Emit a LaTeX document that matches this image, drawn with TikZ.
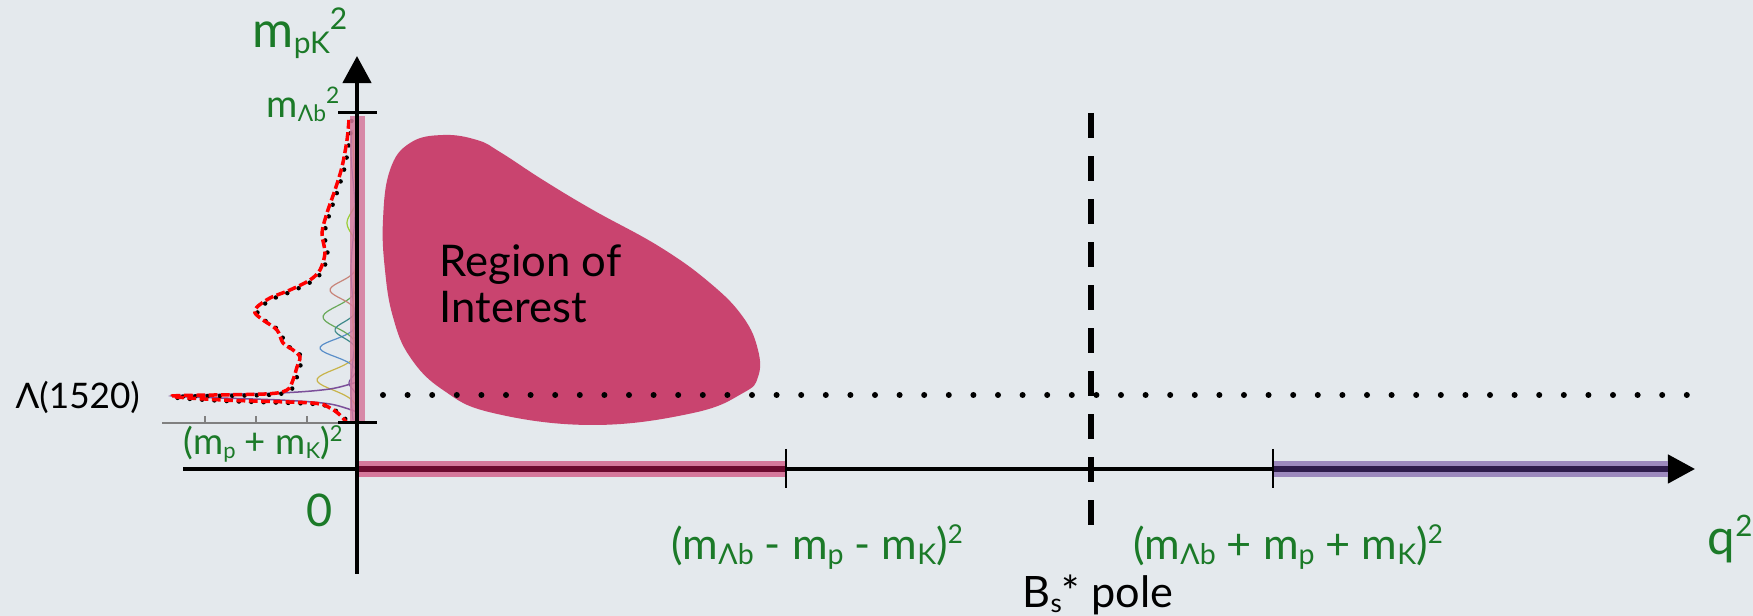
\documentclass[tikz,border=0pt]{standalone}
\usepackage{fontspec}
\setmainfont{Lato}
\usetikzlibrary{arrows.meta}
\definecolor{bg}{HTML}{E4E9ED}
\definecolor{grn}{HTML}{1B7A28}
\definecolor{roi}{HTML}{C9446F}
\definecolor{pinkband}{HTML}{D5789B}
\definecolor{pinkdark}{HTML}{6B0A2E}
\definecolor{purpband}{HTML}{9C89BD}
\definecolor{purpdark}{HTML}{2D1B4A}
\definecolor{hyel}{HTML}{C8B44A}
\definecolor{hblue}{HTML}{5B8FC9}
\definecolor{hgreen}{HTML}{6AAA5A}
\definecolor{hteal}{HTML}{3F8A8A}
\definecolor{hsalm}{HTML}{C8857A}
\definecolor{hpurp}{HTML}{7B4F9A}
\definecolor{holive}{HTML}{9ACD32}
\newcommand\sbs[1]{\raisebox{-0.2ex}{\scalebox{0.6}{#1}}}
\newcommand\sbsL[1]{\raisebox{-0.2ex}{\scalebox{0.66}{#1}}}
\newcommand\sps[1]{\raisebox{0.75ex}{\scalebox{0.6}{#1}}}
\tikzset{
  lbl/.style={text=grn, inner sep=0pt, anchor=base west},
  blk/.style={text=black, inner sep=0pt, anchor=base west},
  axisline/.style={line width=0.045cm, -{Triangle[length=0.27cm,width=0.28cm]}},
  tickline/.style={line width=0.03cm},
  gauss/.style={line width=0.012cm},
}
\begin{document}
\begin{tikzpicture}[x=0.01cm,y=-0.01cm]
\fill[bg] (0,0) rectangle (1753,616);
\useasboundingbox (0,0) rectangle (1753,616);

% region of interest blob
\fill[roi] plot[smooth cycle, tension=0.7] coordinates {
 (410,143) (443,135) (477,140) (500,152) (543,180) (593,210) (660,247)
 (710,283) (743,317) (758,350) (758,377) (743,393) (693,413) (593,425)
 (493,413) (443,390) (410,357) (393,317) (385,270) (383,220) (390,170)};
\node[blk, font=\fontsize{12.4}{14}\selectfont] (roiA) at (439,277) {Region of};
\node[blk, font=\fontsize{12.4}{14}\selectfont] (roiB) at (439,323) {Interest};

% dotted Lambda(1520) line
\foreach \i in {0,...,53} \fill (383+24.6*\i,395) circle (0.03cm);

% dashed Bs* pole line
\draw[line width=0.06cm, dash pattern=on 0.25cm off 0.18cm] (1091,113) -- (1091,525);

% histogram axis
\draw[gray, line width=0.012cm] (162,423) -- (357,423);
\foreach \t in {205,256,307} \draw[gray, line width=0.012cm] (\t,423) -- (\t,416);

% component curves
\draw[gauss,hyel] plot[domain=335:425, samples=40] ({357-40*exp(-((\x-380)/14)^2)},\x);
\draw[gauss,hblue] plot[domain=310:390, samples=40] ({357-37*exp(-((\x-348)/12)^2)},\x);
\draw[gauss,hgreen] plot[domain=270:370, samples=40] ({357-34*exp(-((\x-317)/15)^2)},\x);
\draw[gauss,hsalm] plot[domain=250:330, samples=40] ({357-27*exp(-((\x-290)/12)^2)},\x);
\draw[gauss,hteal] plot[domain=295:365, samples=40] ({357-22*exp(-((\x-330)/11)^2)},\x);
\draw[gauss,holive] plot[domain=180:270, samples=40] ({357-10*exp(-((\x-223)/14)^2)},\x);
\draw[gauss,hpurp] plot[domain=360:410, samples=40] ({357-8*exp(-((\x-383)/8)^2)},\x);
\draw[gauss,hteal!70!blue] plot[domain=130:420, samples=60] ({353-2*sin(\x*3)},\x);
\draw[gauss,hyel!80!orange] plot[domain=130:420, samples=60] ({355+2*sin(\x*2)},\x);

% total fit (purple peak)
\draw[hpurp, line width=0.015cm] plot[smooth] coordinates {
 (357,382) (330,389) (280,393) (172,396) (280,400) (330,404) (357,412)};

% data (red) with black points
\def\datapath{(349,120) (347,140) (342,167) (335,190) (327,213) (322,233)
 (325,253) (320,270) (310,280) (290,290) (270,298) (257,307) (255,313)
 (263,320) (277,330) (283,343) (293,350) (300,357) (297,367) (293,380)
 (287,390) (265,394) (172,396) (223,400) (312,403) (330,408) (340,415) (347,423)}
\draw[black, line width=0.045cm, line cap=round, dash pattern=on 0pt off 3.5pt, xshift=0.025cm, yshift=-0.01cm]
  plot[smooth, tension=0.5] coordinates {\datapath};
\draw[red, line width=0.035cm, dash pattern=on 2.5pt off 1pt]
  plot[smooth, tension=0.5] coordinates {\datapath};

% bands and axes
\fill[pinkband, opacity=0.85] (350,116) rectangle (365,423);
\draw[axisline] (183,469) -- (1695,469);
\fill[pinkband] (357,461) rectangle (786,477);
\fill[pinkdark] (357,466) rectangle (786,472);
\fill[purpband] (1273,461) rectangle (1668,477);
\fill[purpdark] (1273,466) rectangle (1668,472);
\draw[axisline] (357,574) -- (357,56);

% ticks
\draw[tickline] (338,113) -- (377,113);
\draw[tickline] (338,423) -- (377,423);
\draw[line width=0.02cm] (786,449) -- (786,488);
\draw[line width=0.02cm] (1273,449) -- (1273,488);

% labels
\node[lbl, font=\fontsize{14.2}{16}\selectfont] (ylab) at (252,48) {m\sbs{pK}\sps{2}};
\node[lbl, font=\fontsize{10.8}{12}\selectfont] (ytop) at (266,118) {m\sbs{Λb}\sps{2}};
\node[lbl, font=\fontsize{10.4}{12}\selectfont] (ybot) at (183,455) {(m\sbs{p} + m\sbs{K})\sps{2}};
\node[blk, font=\fontsize{10}{12}\selectfont] (lam) at (15,409) {Λ(1520)};
\node[lbl, font=\fontsize{12.8}{14}\selectfont] (zero) at (306,527) {0};
\node[lbl, font=\fontsize{12.3}{14}\selectfont] (xlo) at (671,560) {(m\sbsL{Λb} - m\sbsL{p} - m\sbsL{K})\sps{2}};
\node[lbl, font=\fontsize{12.3}{14}\selectfont] (xhi) at (1133,560) {(m\sbsL{Λb} + m\sbsL{p} + m\sbsL{K})\sps{2}};
\node[lbl, font=\fontsize{14}{16}\selectfont] (xlab) at (1707,555) {q\sps{2}};
\node[blk, font=\fontsize{12.3}{14}\selectfont] (pole) at (1022,608) {B\sbs{s}* pole};
\end{tikzpicture}
\end{document}
